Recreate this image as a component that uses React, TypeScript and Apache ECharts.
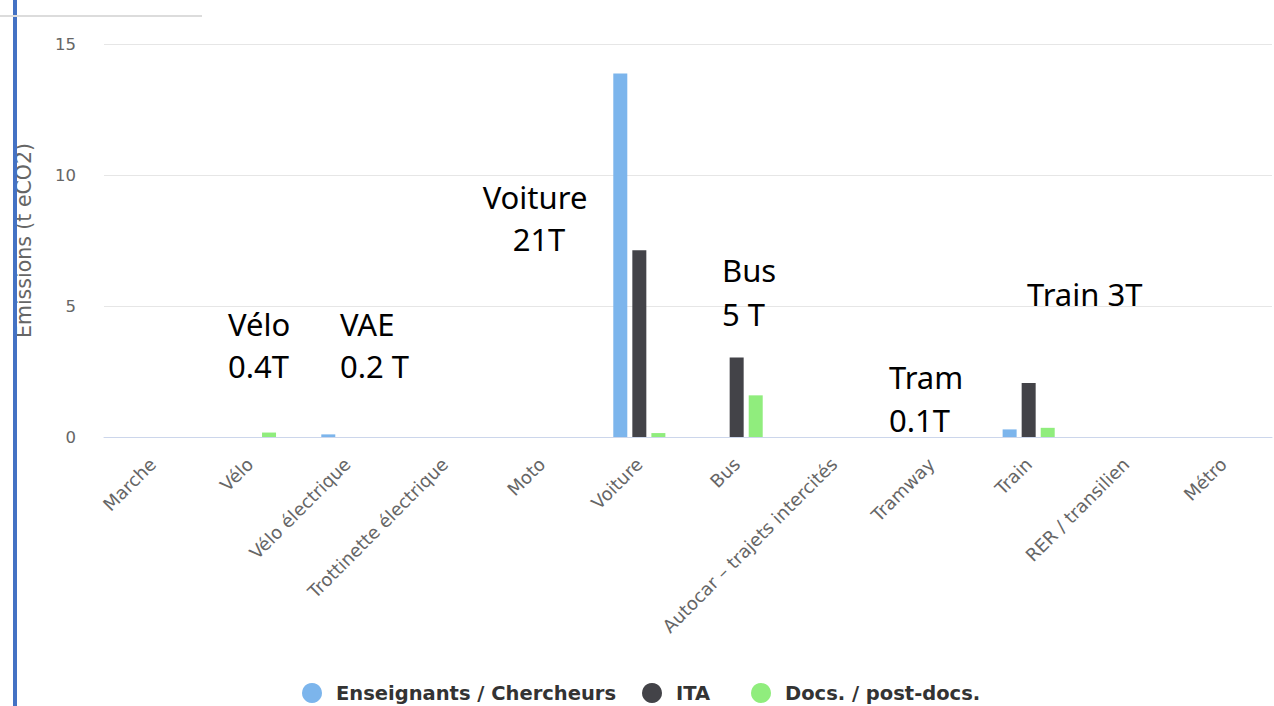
import React, { useEffect, useRef } from "react";
import * as echarts from "echarts";

const categories = [
  "Marche",
  "Vélo",
  "Vélo électrique",
  "Trottinette électrique",
  "Moto",
  "Voiture",
  "Bus",
  "Autocar – trajets intercités",
  "Tramway",
  "Train",
  "RER / transilien",
  "Métro",
];

const seriesNames = ["Enseignants / Chercheurs", "ITA", "Docs. / post-docs."];
const enseignants = [0, 0, 0.1, 0, 0, 13.87, 0, 0, 0, 0.29, 0, 0];
const ita = [0, 0, 0, 0, 0, 7.13, 3.03, 0, 0, 2.06, 0, 0];
const docs = [0, 0.17, 0, 0, 0, 0.15, 1.59, 0, 0, 0.35, 0, 0];
const seriesColors = ["#7cb5ec", "#434348", "#90ed7d"];

const yTicks = { min: 0, max: 15, interval: 5 };
const yTitle = "Emissions (t eCO2)";

const annotations = [
  { text: "Voiture", x: 535, y: 208, align: "center" },
  { text: "21T", x: 539, y: 250, align: "center" },
  { text: "Vélo", x: 228, y: 335, align: "left" },
  { text: "0.4T", x: 228, y: 377, align: "left" },
  { text: "VAE", x: 340, y: 335, align: "left" },
  { text: "0.2 T", x: 340, y: 377, align: "left" },
  { text: "Bus", x: 722, y: 281, align: "left" },
  { text: "5 T", x: 722, y: 325, align: "left" },
  { text: "Tram", x: 889, y: 388, align: "left" },
  { text: "0.1T", x: 889, y: 431, align: "left" },
  { text: "Train 3T", x: 1027, y: 305, align: "left" },
];

const legendLefts = [302, 642, 751];

export default function App() {
  const ref = useRef<HTMLDivElement>(null);
  useEffect(() => {
    if (!ref.current) return;
    const chart = echarts.init(ref.current, null, { renderer: "svg" });
    const dataSets = [enseignants, ita, docs];
    chart.setOption({
      animation: false,
      backgroundColor: "#ffffff",
      grid: { left: 104, right: 2, top: 44, bottom: 269, containLabel: false },
      legend: seriesNames.map((name, i) => ({
        left: legendLefts[i],
        top: 683,
        icon: "circle",
        itemWidth: 38,
        itemHeight: 20,
        padding: 0,
        textStyle: {
          fontFamily: "DejaVu Sans",
          fontWeight: "bold",
          fontSize: 19.5,
          color: "#333333",
        },
        data: [name],
      })),
      xAxis: {
        type: "category",
        data: categories,
        axisLine: { lineStyle: { color: "#ccd6eb", width: 1 } },
        axisTick: { show: false },
        axisLabel: {
          rotate: 45,
          interval: 0,
          margin: 24,
          color: "#666666",
          fontFamily: "DejaVu Sans",
          fontSize: 18,
        },
      },
      yAxis: {
        type: "value",
        min: yTicks.min,
        max: yTicks.max,
        interval: yTicks.interval,
        name: yTitle,
        nameLocation: "middle",
        nameRotate: 90,
        nameGap: 70,
        nameTextStyle: {
          color: "#666666",
          fontFamily: "DejaVu Sans",
          fontSize: 20.5,
        },
        axisLine: { show: false },
        axisTick: { show: false },
        splitLine: { lineStyle: { color: "#e6e6e6", width: 1 } },
        axisLabel: {
          margin: 28,
          color: "#666666",
          fontFamily: "DejaVu Sans",
          fontSize: 16.5,
        },
      },
      series: seriesNames.map((name, i) => ({
        name,
        type: "bar",
        data: dataSets[i],
        barWidth: 14,
        barGap: "36%",
        itemStyle: { color: seriesColors[i] },
      })),
      graphic: [
        {
          type: "rect",
          shape: { x: 13, y: 0, width: 4, height: 706 },
          style: { fill: "#4472c4" },
          z: 100,
        },
        {
          type: "line",
          shape: { x1: 0, y1: 16, x2: 202, y2: 16 },
          style: { stroke: "#dcdcdc", lineWidth: 2 },
          z: 100,
        },
        ...annotations.map((a) => ({
          type: "text",
          x: a.x,
          y: a.y - 11,
          z: 100,
          style: {
            text: a.text,
            fill: "#000000",
            fontFamily: "Noto Sans",
            fontSize: 31,
            align: a.align,
            verticalAlign: "middle",
          },
        })),
      ],
    });
    return () => chart.dispose();
  }, []);
  return (
    <div
      ref={ref}
      style={{ position: "fixed", left: 0, top: 0, width: 1274, height: 706 }}
    />
  );
}
